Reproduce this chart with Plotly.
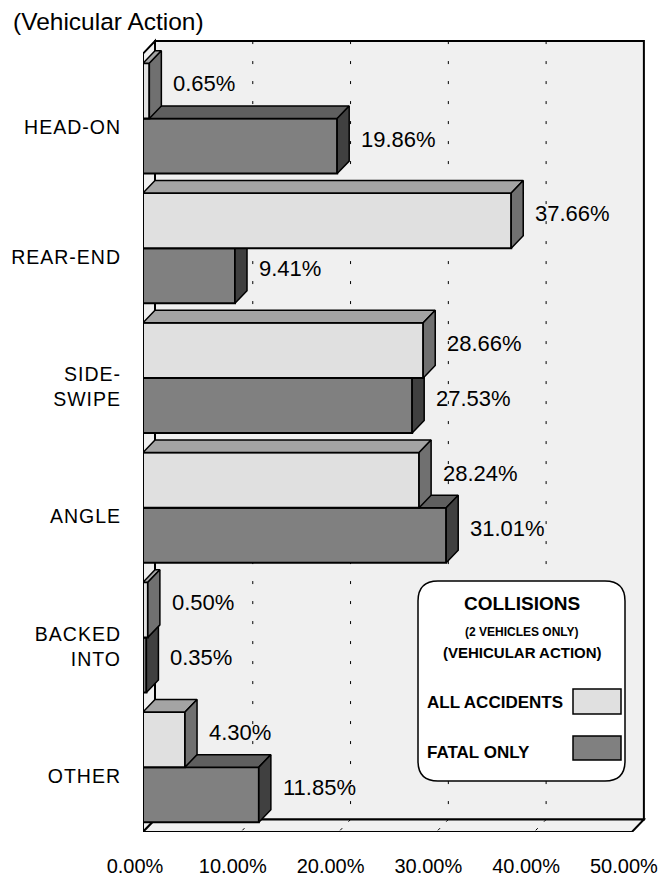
import plotly.graph_objects as go

# --- data -------------------------------------------------------------------
categories = ["HEAD-ON", "REAR-END", "SIDE-<br>SWIPE", "ANGLE", "BACKED<br>INTO", "OTHER"]
all_accidents = [0.65, 37.66, 28.66, 28.24, 0.50, 4.30]
fatal_only = [19.86, 9.41, 27.53, 31.01, 0.35, 11.85]
x_ticks = [0, 10, 20, 30, 40, 50]
series_names = ["ALL ACCIDENTS", "FATAL ONLY"]
legend_title = ["COLLISIONS", "(2 VEHICLES ONLY)", "(VEHICULAR ACTION)"]
chart_title = "(Vehicular Action)"

# --- geometry ---------------------------------------------------------------
# the page body has an 8px margin, so the figure is a bit smaller than the window
OFF = 8
W, H = 669 - OFF, 881 - OFF
M_L, M_R, M_T, M_B = 143 - OFF, 20, 38 - OFF, 49
PLOT_W = W - M_L - M_R
PLOT_H = H - M_T - M_B
X_MAX = 51.75
Y_RANGE = [5.5, -0.62]
PX_X = PLOT_W / X_MAX
PX_Y = PLOT_H / (Y_RANGE[0] - Y_RANGE[1])
DX = 12 / PX_X          # 3d depth, in data units
DY = 12.5 / PX_Y
BAR_W = 0.425
AX_MAX = x_ticks[-1]
Y_LO, Y_HI = -0.5, len(categories) - 0.5

FONT = "Liberation Sans, Arial, Helvetica, sans-serif"

COL_WALL = "#f0f0f0"
COL_ALL = ("#e0e0e0", "#a4a4a4", "#707070")   # front, top, side
COL_FAT = ("#808080", "#5f5f5f", "#404040")


def paper_x(p):
    """window pixel -> paper coordinate"""
    return (p - OFF - M_L) / PLOT_W


def paper_y(p):
    return 1 - (p - OFF - M_T) / PLOT_H


def faces(values, ypos):
    """top and right faces of the 3d bars, as polygons separated by None"""
    tx, ty, sx, sy = [], [], [], []
    for v, y in zip(values, ypos):
        yt, yb = y - BAR_W / 2, y + BAR_W / 2
        tx += [0, v, v + DX, DX, 0, None]
        ty += [yt, yt, yt - DY, yt - DY, yt, None]
        sx += [v, v + DX, v + DX, v, v, None]
        sy += [yt, yt - DY, yb - DY, yb, yt, None]
    return tx, ty, sx, sy


fig = go.Figure()

idx = list(range(len(categories)))
y_all = [i - BAR_W / 2 for i in idx]
y_fat = [i + BAR_W / 2 for i in idx]

# fatal first (zorder 0), all accidents painted over it (zorder 1)
for name, vals, ypos, cols, z in [
    (series_names[1], fatal_only, y_fat, COL_FAT, 0),
    (series_names[0], all_accidents, y_all, COL_ALL, 1),
]:
    fig.add_trace(go.Bar(
        x=vals, y=ypos, orientation="h", width=BAR_W, base=0,
        marker=dict(color=cols[0], line=dict(color="black", width=2)),
        name=name, zorder=z, showlegend=False, hoverinfo="x",
    ))
    tx, ty, sx, sy = faces(vals, ypos)
    fig.add_trace(go.Scatter(
        x=tx, y=ty, mode="lines", fill="toself", fillcolor=cols[1],
        line=dict(color="black", width=1.5), zorder=z,
        showlegend=False, hoverinfo="skip",
    ))
    fig.add_trace(go.Scatter(
        x=sx, y=sy, mode="lines", fill="toself", fillcolor=cols[2],
        line=dict(color="black", width=1.5), zorder=z,
        showlegend=False, hoverinfo="skip",
    ))
    for v, y in zip(vals, ypos):
        fig.add_annotation(
            x=v + DX, y=y, text=f"{v:.2f}%", showarrow=False,
            xanchor="left", yanchor="middle", xshift=10, yshift=7,
            font=dict(family=FONT, size=22, color="black"),
        )

# --- walls, floor and grid ---------------------------------------------------
shapes = []
shapes.append(dict(type="rect", xref="x", yref="y", layer="below",
                   x0=DX, x1=AX_MAX + DX, y0=Y_LO - DY, y1=Y_HI - DY,
                   fillcolor=COL_WALL, line=dict(color="black", width=2)))
shapes.append(dict(type="path", xref="x", yref="y", layer="below",
                   path=f"M 0,{Y_LO} L {DX},{Y_LO - DY} L {DX},{Y_HI - DY} L 0,{Y_HI} Z",
                   fillcolor=COL_WALL, line=dict(color="black", width=2)))
shapes.append(dict(type="path", xref="x", yref="y", layer="below",
                   path=(f"M 0,{Y_HI} L {AX_MAX},{Y_HI} L {AX_MAX + DX},{Y_HI - DY} "
                         f"L {DX},{Y_HI - DY} Z"),
                   fillcolor=COL_WALL, line=dict(color="black", width=2)))
for t in x_ticks[1:-1]:
    shapes.append(dict(type="line", xref="x", yref="y", layer="below",
                       x0=t + DX, x1=t + DX, y0=Y_LO - DY, y1=Y_HI - DY,
                       line=dict(color="black", width=1, dash="3px,17px")))
    shapes.append(dict(type="line", xref="x", yref="y", layer="below",
                       x0=t + DX, x1=t, y0=Y_HI - DY, y1=Y_HI,
                       line=dict(color="black", width=1, dash="3px,9px")))

# --- legend box ---------------------------------------------------------------
lx0, lx1, ly0, ly1, r = 418, 625, 581, 781, 20


def pt(x, y):
    return f"{paper_x(x):.5f},{paper_y(y):.5f}"


box = (f"M {pt(lx0 + r, ly0)} L {pt(lx1 - r, ly0)} Q {pt(lx1, ly0)} {pt(lx1, ly0 + r)} "
       f"L {pt(lx1, ly1 - r)} Q {pt(lx1, ly1)} {pt(lx1 - r, ly1)} "
       f"L {pt(lx0 + r, ly1)} Q {pt(lx0, ly1)} {pt(lx0, ly1 - r)} "
       f"L {pt(lx0, ly0 + r)} Q {pt(lx0, ly0)} {pt(lx0 + r, ly0)} Z")
shapes.append(dict(type="path", xref="paper", yref="paper", path=box, layer="above",
                   fillcolor="white", line=dict(color="black", width=1.5)))
for (y0, y1), col in zip([(689, 714), (736, 760)], [COL_ALL[0], COL_FAT[0]]):
    shapes.append(dict(type="rect", xref="paper", yref="paper", layer="above",
                       x0=paper_x(573), x1=paper_x(621), y0=paper_y(y0), y1=paper_y(y1),
                       fillcolor=col, line=dict(color="black", width=1.5)))

for txt, yc, size in [
    (legend_title[0], 603, 19),
    (legend_title[1], 632, 12),
    (legend_title[2], 652, 15),
]:
    fig.add_annotation(xref="paper", yref="paper", x=paper_x(522), y=paper_y(yc),
                       text=f"<b>{txt}</b>", showarrow=False,
                       xanchor="center", yanchor="middle",
                       font=dict(family=FONT, size=size, color="black"))
for txt, yc in zip(series_names, [702, 752]):
    fig.add_annotation(xref="paper", yref="paper", x=paper_x(425), y=paper_y(yc),
                       text=f"<b>{txt}</b>", showarrow=False,
                       xanchor="left", yanchor="middle",
                       font=dict(family=FONT, size=17, color="black"))

fig.update_layout(
    width=W, height=H,
    margin=dict(l=M_L, r=M_R, t=M_T, b=M_B),
    paper_bgcolor="white", plot_bgcolor="white",
    barmode="overlay",
    shapes=shapes,
    showlegend=False,
    title=dict(text=chart_title, x=5 / W, xanchor="left", y=1 - 13 / H, yanchor="middle",
               font=dict(family=FONT, size=24.5, color="black")),
    xaxis=dict(
        range=[0, X_MAX], tickvals=x_ticks, ticktext=[f"{t:.2f}%" for t in x_ticks],
        showgrid=False, zeroline=False, showline=False, ticks="", automargin=False,
        ticklabelstandoff=20, ticklabelshift=-8,
        tickfont=dict(family=FONT, size=20, color="black"),
    ),
    yaxis=dict(
        range=Y_RANGE, tickvals=idx,
        ticktext=[f'<span style="letter-spacing:1px">{c}</span>' for c in categories],
        showgrid=False, zeroline=False, showline=False, ticks="", automargin=False,
        ticklabelstandoff=21, ticklabelshift=-9,
        tickfont=dict(family=FONT, size=19.5, color="black"),
    ),
)

fig.write_html("out.html")
